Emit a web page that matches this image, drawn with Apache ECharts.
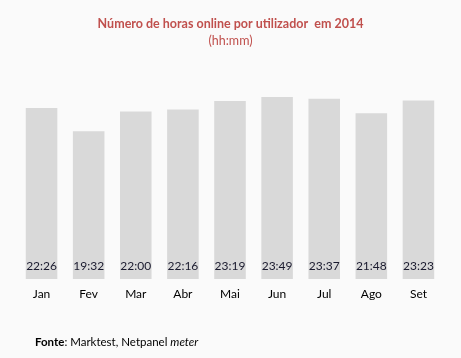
<!DOCTYPE html>
<html><head><meta charset="utf-8">
<script src="https://cdn.jsdelivr.net/npm/echarts@6/dist/echarts.min.js"></script>
<style>html,body{margin:0;padding:0;background:#fafafa}#c{width:461px;height:358px}</style>
</head><body><div id="c"></div>
<script>
var categories = ["Jan","Fev","Mar","Abr","Mai","Jun","Jul","Ago","Set"];
var timeLabels = ["22:26","19:32","22:00","22:16","23:19","23:49","23:37","21:48","23:23"];
var minutes = [1346, 1172, 1320, 1336, 1399, 1429, 1417, 1308, 1403];
function fmt(m){var h=Math.floor(m/60),mm=m%60;return h+":"+(mm<10?"0":"")+mm;}
var chart = echarts.init(document.getElementById('c'));
var font = "Lato, 'Open Sans', sans-serif";
chart.setOption({
  backgroundColor:'#fafafa',
  animation:false,
  title:[{
    text:'Número de horas online por utilizador  em 2014',
    left:'center', top:12,
    textStyle:{color:'#C0504D',fontSize:12.5,fontWeight:'bold',fontFamily:font}
  },{
    text:'(hh:mm)', left:'center', top:29,
    textStyle:{color:'#C0504D',fontSize:12.5,fontWeight:'normal',fontFamily:font}
  }],
  grid:{left:18,right:19,top:95.6,bottom:79},
  xAxis:{type:'category',data:categories,
    axisLine:{show:false},axisTick:{show:false},
    axisLabel:{color:'#000',fontSize:12,fontFamily:font,margin:9}},
  yAxis:{type:'value',min:60,max:1440,show:false,splitLine:{show:false}},
  series:[{type:'bar',data:minutes,barWidth:'67%',
    itemStyle:{color:'#D9D9D9'},
    label:{show:true,position:'insideBottom',distance:7,color:'#1a1a2e',fontSize:12,fontFamily:font,
      formatter:function(p){return fmt(p.value);}}
  }],
  graphic:[{type:'text',left:35,top:336,
    style:{text:'{b|Fonte}: Marktest, Netpanel {i|meter}',
      rich:{b:{fontWeight:'bold',fontSize:11.5,fontFamily:font,fill:'#000'},i:{fontStyle:'italic',fontSize:11.5,fontFamily:font,fill:'#000'}},
      fontSize:11.5,fontFamily:font,fill:'#000'}}]
});
</script></body></html>
